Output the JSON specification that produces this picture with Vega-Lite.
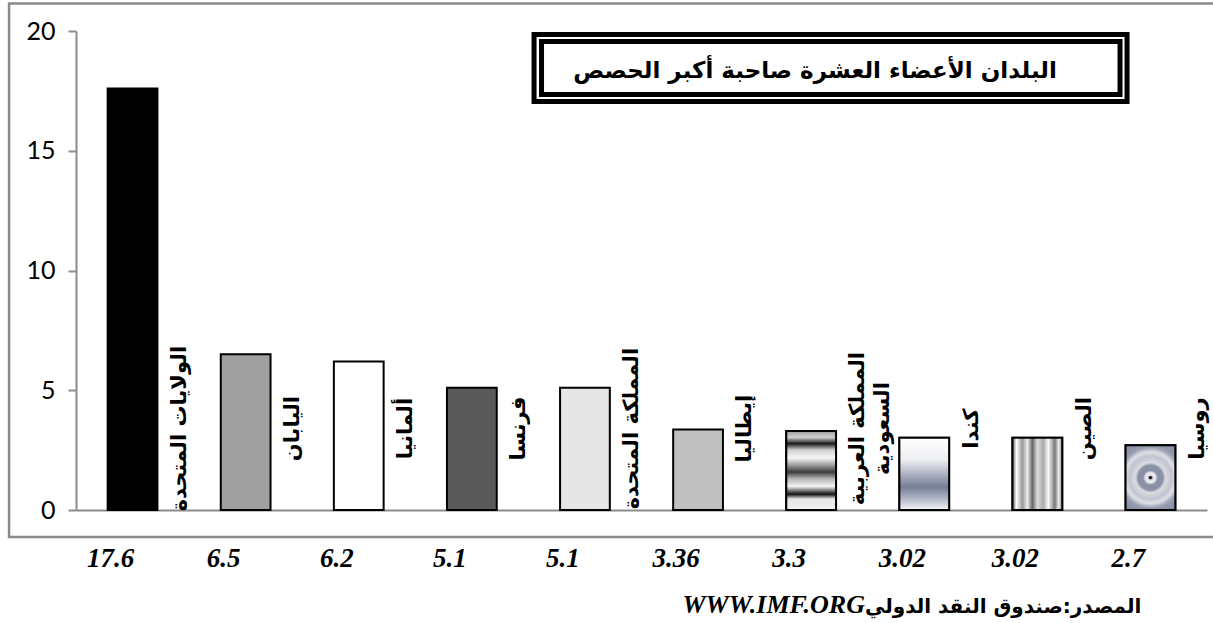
{
  "$schema": "https://vega.github.io/schema/vega-lite/v6.json",
  "width": 1131,
  "height": 479,
  "autosize": "none",
  "padding": {"left": 76, "top": 31, "right": 6, "bottom": 113},
  "background": "white",
  "config": {
    "view": {"stroke": null},
    "axisY": {"grid": false, "domainColor": "#8c8c8c", "domainWidth": 2, "tickColor": "#8c8c8c", "tickWidth": 2, "tickSize": 8,
      "labelFont": "Lato", "labelFontSize": 25, "labelColor": "black", "labelPadding": 13}
  },
  "layer": [
    {
      "data": {"values": [{"k": 1}]},
      "mark": {"type": "rect", "fillOpacity": 0, "stroke": "#8a8a8a", "strokeWidth": 2.5},
      "encoding": {
        "x": {"datum": -0.592, "type": "quantitative", "scale": {"domain": [0, 10]}, "axis": null},
        "x2": {"datum": 10.1},
        "y": {"datum": 21.15, "type": "quantitative", "scale": {"domain": [0, 20]}, "axis": {"values": [0, 5, 10, 15, 20], "title": null}},
        "y2": {"datum": -1.127}
      }
    },
    {
      "data": {"values": [
        {"country": "الولايات المتحدة", "label": "الولايات المتحدة", "share": 17.6},
        {"country": "اليابان", "label": "اليابان", "share": 6.5},
        {"country": "ألمانيا", "label": "ألمانيا", "share": 6.2},
        {"country": "فرنسا", "label": "فرنسا", "share": 5.1},
        {"country": "المملكة المتحدة", "label": "المملكة المتحدة", "share": 5.1},
        {"country": "إيطاليا", "label": "إيطاليا", "share": 3.36},
        {"country": "المملكة العربية السعودية", "label": "المملكة العربية\nالسعودية", "share": 3.3},
        {"country": "كندا", "label": "كندا", "share": 3.02},
        {"country": "الصين", "label": "الصين", "share": 3.02},
        {"country": "روسيا", "label": "روسيا", "share": 2.7}
      ]},
      "encoding": {
        "x": {
          "field": "country", "type": "nominal", "sort": null,
          "scale": {"paddingInner": 0.56, "paddingOuter": 0.28},
          "axis": {"labels": false, "ticks": false, "title": null, "domainColor": "#8c8c8c", "domainWidth": 2}
        }
      },
      "layer": [
        {
          "mark": {"type": "bar", "stroke": "black", "strokeWidth": 2},
          "encoding": {
            "y": {"field": "share", "type": "quantitative", "scale": {"domain": [0, 20]}, "axis": {"values": [0, 5, 10, 15, 20], "title": null}},
            "fill": {
              "field": "country", "type": "nominal", "legend": null,
              "scale": {
                "domain": ["الولايات المتحدة", "اليابان", "ألمانيا", "فرنسا", "المملكة المتحدة", "إيطاليا", "المملكة العربية السعودية", "كندا", "الصين", "روسيا"],
                "range": ["#000000", "#a0a0a0", "#ffffff", "#595959", "#e6e6e6", "#c0c0c0", "#cccccc", "#dddddd", "#cccccc", "#a0a6b8"]
              }
            }
          }
        },
        {
          "transform": [{"filter": "datum.country === 'المملكة العربية السعودية'"}],
          "mark": {"type": "bar", "stroke": "black", "strokeWidth": 2,
            "fill": {"gradient": "linear", "x1": 0, "y1": 0, "x2": 0, "y2": 1, "stops": [
              {"offset": 0, "color": "#9a9a9a"}, {"offset": 0.08, "color": "#d0d0d0"}, {"offset": 0.16, "color": "#1a1a1a"},
              {"offset": 0.24, "color": "#cfcfcf"}, {"offset": 0.34, "color": "#f8f8f8"}, {"offset": 0.45, "color": "#8a8a8a"},
              {"offset": 0.52, "color": "#3a3a3a"}, {"offset": 0.6, "color": "#b0b0b0"}, {"offset": 0.7, "color": "#f5f5f5"},
              {"offset": 0.8, "color": "#111111"}, {"offset": 0.86, "color": "#e6e6e6"}, {"offset": 1, "color": "#f2f2f2"}]}},
          "encoding": {"y": {"field": "share", "type": "quantitative", "scale": {"domain": [0, 20]}, "axis": {"values": [0, 5, 10, 15, 20], "title": null}}}
        },
        {
          "transform": [{"filter": "datum.country === 'كندا'"}],
          "mark": {"type": "bar", "stroke": "black", "strokeWidth": 2,
            "fill": {"gradient": "linear", "x1": 0, "y1": 0, "x2": 0, "y2": 1, "stops": [
              {"offset": 0, "color": "#ffffff"}, {"offset": 0.3, "color": "#eff0f4"}, {"offset": 0.68, "color": "#767e96"},
              {"offset": 0.82, "color": "#a8aebe"}, {"offset": 1, "color": "#f4f5f8"}]}},
          "encoding": {"y": {"field": "share", "type": "quantitative", "scale": {"domain": [0, 20]}, "axis": {"values": [0, 5, 10, 15, 20], "title": null}}}
        },
        {
          "transform": [{"filter": "datum.country === 'الصين'"}],
          "mark": {"type": "bar", "stroke": "black", "strokeWidth": 2,
            "fill": {"gradient": "linear", "x1": 0, "y1": 0, "x2": 1, "y2": 0, "stops": [
              {"offset": 0, "color": "#555555"}, {"offset": 0.08, "color": "#ffffff"}, {"offset": 0.2, "color": "#999999"},
              {"offset": 0.3, "color": "#eeeeee"}, {"offset": 0.4, "color": "#666666"}, {"offset": 0.5, "color": "#dddddd"},
              {"offset": 0.62, "color": "#aaaaaa"}, {"offset": 0.72, "color": "#fafafa"}, {"offset": 0.85, "color": "#777777"},
              {"offset": 0.93, "color": "#eeeeee"}, {"offset": 1, "color": "#888888"}]}},
          "encoding": {"y": {"field": "share", "type": "quantitative", "scale": {"domain": [0, 20]}, "axis": {"values": [0, 5, 10, 15, 20], "title": null}}}
        },
        {
          "transform": [{"filter": "datum.country === 'روسيا'"}],
          "mark": {"type": "bar", "stroke": "black", "strokeWidth": 2,
            "fill": {"gradient": "radial", "x1": 0.5, "y1": 0.5, "r1": 0, "x2": 0.5, "y2": 0.5, "r2": 0.55, "stops": [
              {"offset": 0, "color": "#000000"}, {"offset": 0.04, "color": "#000000"}, {"offset": 0.06, "color": "#e8e8ee"},
              {"offset": 0.15, "color": "#e8e8ee"}, {"offset": 0.2, "color": "#8a90a6"}, {"offset": 0.35, "color": "#8a90a6"},
              {"offset": 0.42, "color": "#dcdde3"}, {"offset": 0.6, "color": "#c0c3cf"}, {"offset": 0.72, "color": "#e0e1e6"},
              {"offset": 0.85, "color": "#9aa0b3"}, {"offset": 1, "color": "#8a90a6"}]}},
          "encoding": {"y": {"field": "share", "type": "quantitative", "scale": {"domain": [0, 20]}, "axis": {"values": [0, 5, 10, 15, 20], "title": null}}}
        },
        {
          "mark": {"type": "text", "angle": 270, "font": "DejaVu Sans", "fontWeight": "bold", "fontSize": 21,
            "align": "center", "baseline": "middle", "lineBreak": "\n", "lineHeight": 25, "color": "black"},
          "encoding": {
            "x": {"field": "country", "type": "nominal", "sort": null, "bandPosition": 1.45},
            "y": {"datum": 3.4, "type": "quantitative", "scale": {"domain": [0, 20]}, "axis": {"values": [0, 5, 10, 15, 20], "title": null}},
            "text": {"field": "label"}
          }
        },
        {
          "mark": {"type": "text", "font": "Liberation Serif", "fontWeight": "bold", "fontStyle": "italic", "fontSize": 27,
            "align": "center", "baseline": "alphabetic", "dx": -22, "dy": 57, "color": "black"},
          "encoding": {
            "y": {"datum": 0, "type": "quantitative", "scale": {"domain": [0, 20]}, "axis": {"values": [0, 5, 10, 15, 20], "title": null}},
            "text": {"field": "share", "type": "quantitative", "format": "~g"}
          }
        }
      ]
    },
    {
      "data": {"values": [{"k": 1}]},
      "mark": {"type": "rect", "fill": "white", "stroke": "black", "strokeWidth": 5},
      "encoding": {
        "x": {"datum": 4.05, "type": "quantitative", "scale": {"domain": [0, 10]}, "axis": null},
        "x2": {"datum": 9.293},
        "y": {"datum": 19.854, "type": "quantitative", "scale": {"domain": [0, 20]}, "axis": {"values": [0, 5, 10, 15, 20], "title": null}},
        "y2": {"datum": 17.056}
      }
    },
    {
      "data": {"values": [{"k": 1}]},
      "mark": {"type": "rect", "fillOpacity": 0, "stroke": "black", "strokeWidth": 5},
      "encoding": {
        "x": {"datum": 4.116, "type": "quantitative", "scale": {"domain": [0, 10]}, "axis": null},
        "x2": {"datum": 9.231},
        "y": {"datum": 19.562, "type": "quantitative", "scale": {"domain": [0, 20]}, "axis": {"values": [0, 5, 10, 15, 20], "title": null}},
        "y2": {"datum": 17.349}
      }
    },
    {
      "data": {"values": [{"t": "البلدان الأعضاء العشرة صاحبة أكبر الحصص"}]},
      "mark": {"type": "text", "font": "DejaVu Sans", "fontWeight": "bold", "fontSize": 23, "align": "center", "baseline": "middle", "color": "black"},
      "encoding": {
        "x": {"datum": 6.534, "type": "quantitative", "scale": {"domain": [0, 10]}, "axis": null},
        "y": {"datum": 18.35, "type": "quantitative", "scale": {"domain": [0, 20]}, "axis": {"values": [0, 5, 10, 15, 20], "title": null}},
        "text": {"field": "t"}
      }
    },
    {
      "data": {"values": [{"t": "WWW.IMF.ORG"}]},
      "mark": {"type": "text", "font": "Liberation Serif", "fontWeight": "bold", "fontStyle": "italic", "fontSize": 26, "align": "right", "baseline": "alphabetic", "color": "black"},
      "encoding": {
        "x": {"datum": 6.976, "type": "quantitative", "scale": {"domain": [0, 10]}, "axis": null},
        "y": {"datum": -4.3, "type": "quantitative", "scale": {"domain": [0, 20]}, "axis": {"values": [0, 5, 10, 15, 20], "title": null}},
        "text": {"field": "t"}
      }
    },
    {
      "data": {"values": [{"t": "المصدر:صندوق النقد الدولي"}]},
      "mark": {"type": "text", "font": "DejaVu Sans", "fontWeight": "bold", "fontSize": 20, "align": "left", "baseline": "alphabetic", "color": "black"},
      "encoding": {
        "x": {"datum": 6.976, "type": "quantitative", "scale": {"domain": [0, 10]}, "axis": null},
        "y": {"datum": -4.3, "type": "quantitative", "scale": {"domain": [0, 20]}, "axis": {"values": [0, 5, 10, 15, 20], "title": null}},
        "text": {"field": "t"}
      }
    }
  ],
  "resolve": {"scale": {"x": "independent"}, "axis": {"x": "independent"}}
}
